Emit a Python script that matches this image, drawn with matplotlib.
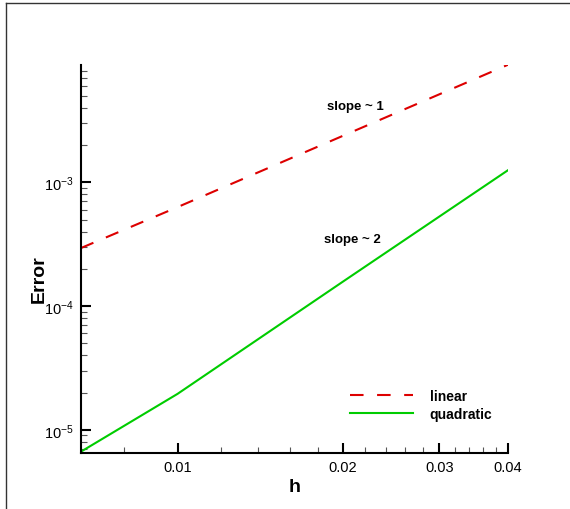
import numpy as np
import matplotlib
matplotlib.use("Agg")
import matplotlib.pyplot as plt
from matplotlib.lines import Line2D
from matplotlib.ticker import FixedLocator, NullFormatter, LogLocator, FuncFormatter

plt.rcParams['font.family'] = ['Liberation Sans', 'DejaVu Sans']
plt.rcParams['mathtext.fontset'] = 'custom'
plt.rcParams['mathtext.rm'] = 'Liberation Sans'
plt.rcParams['mathtext.it'] = 'Liberation Sans'

# mesh size and errors
h = [1 / 150, 0.01, 0.02, 0.04]
err_linear = [2.94e-4, 6.3e-4, 2.37e-3, 8.9e-3]
err_quadratic = [6.65e-6, 1.95e-5, 1.57e-4, 1.25e-3]

x_major = [0.01, 0.02, 0.03, 0.04]
x_labels = ['0.01', '0.02', '0.03', '0.04']
x_minor = [0.008, 0.012, 0.014, 0.016, 0.018, 0.022, 0.024, 0.026, 0.028,
           0.032, 0.034, 0.036, 0.038]

fig = plt.figure(figsize=(5.7, 5.1), dpi=100)
ax = fig.add_axes([0.142, 0.110, 0.749, 0.761])

ax.plot(h, err_linear, color='#dd0000', lw=1.5, dashes=(6.5, 6.5), label='linear')
ax.plot(h, err_quadratic, color='#00cc00', lw=1.5, label='quadratic')

ax.set_xscale('log')
ax.set_yscale('log')
ax.set_xlim(1 / 150, 0.04)
ax.set_ylim(6.5e-6, 8.9e-3)

ax.xaxis.set_major_locator(FixedLocator(x_major))
ax.xaxis.set_major_formatter(FuncFormatter(lambda v, p: x_labels[x_major.index(v)] if v in x_major else ''))
ax.xaxis.set_minor_locator(FixedLocator(x_minor))
ax.xaxis.set_minor_formatter(NullFormatter())

ax.yaxis.set_major_locator(LogLocator(base=10, numticks=10))
ax.yaxis.set_minor_locator(LogLocator(base=10, subs=np.arange(2, 10), numticks=20))
ax.yaxis.set_major_formatter(FuncFormatter(lambda v, p: r'$10^{%d}$' % round(np.log10(v))))
ax.yaxis.set_minor_formatter(NullFormatter())

for s in ['top', 'right']:
    ax.spines[s].set_visible(False)
for s in ['left', 'bottom']:
    ax.spines[s].set_linewidth(1.5)

ax.tick_params(which='major', direction='in', length=7, width=1.5, labelsize=10.5, pad=5)
ax.tick_params(which='minor', direction='in', length=4, width=0.8, color='#555555')

ax.set_xlabel('h', fontsize=14, fontweight='bold', labelpad=3)
ax.set_ylabel('Error', fontsize=14, fontweight='bold')
ax.yaxis.set_label_coords(-0.078, 0.45)

ax.text(0.642, 0.895, 'slope ~ 1', transform=ax.transAxes, ha='center', va='center',
        fontsize=9.5, fontweight='bold')
ax.text(0.635, 0.550, 'slope ~ 2', transform=ax.transAxes, ha='center', va='center',
        fontsize=9.5, fontweight='bold')

leg = ax.legend(loc='upper left', bbox_to_anchor=(0.602, 0.196), frameon=False,
                handlelength=4.5, handletextpad=1.2, labelspacing=0.25,
                prop={'size': 10, 'weight': 'bold'})

# frame round the page (left and top only)
fig.add_artist(Line2D([6 / 570, 6 / 570], [0, 1 - 4 / 510], transform=fig.transFigure,
                      color='#333333', lw=1))
fig.add_artist(Line2D([6 / 570, 1], [1 - 4 / 510, 1 - 4 / 510], transform=fig.transFigure,
                      color='#333333', lw=1))

fig.savefig('out.png', dpi=100)
